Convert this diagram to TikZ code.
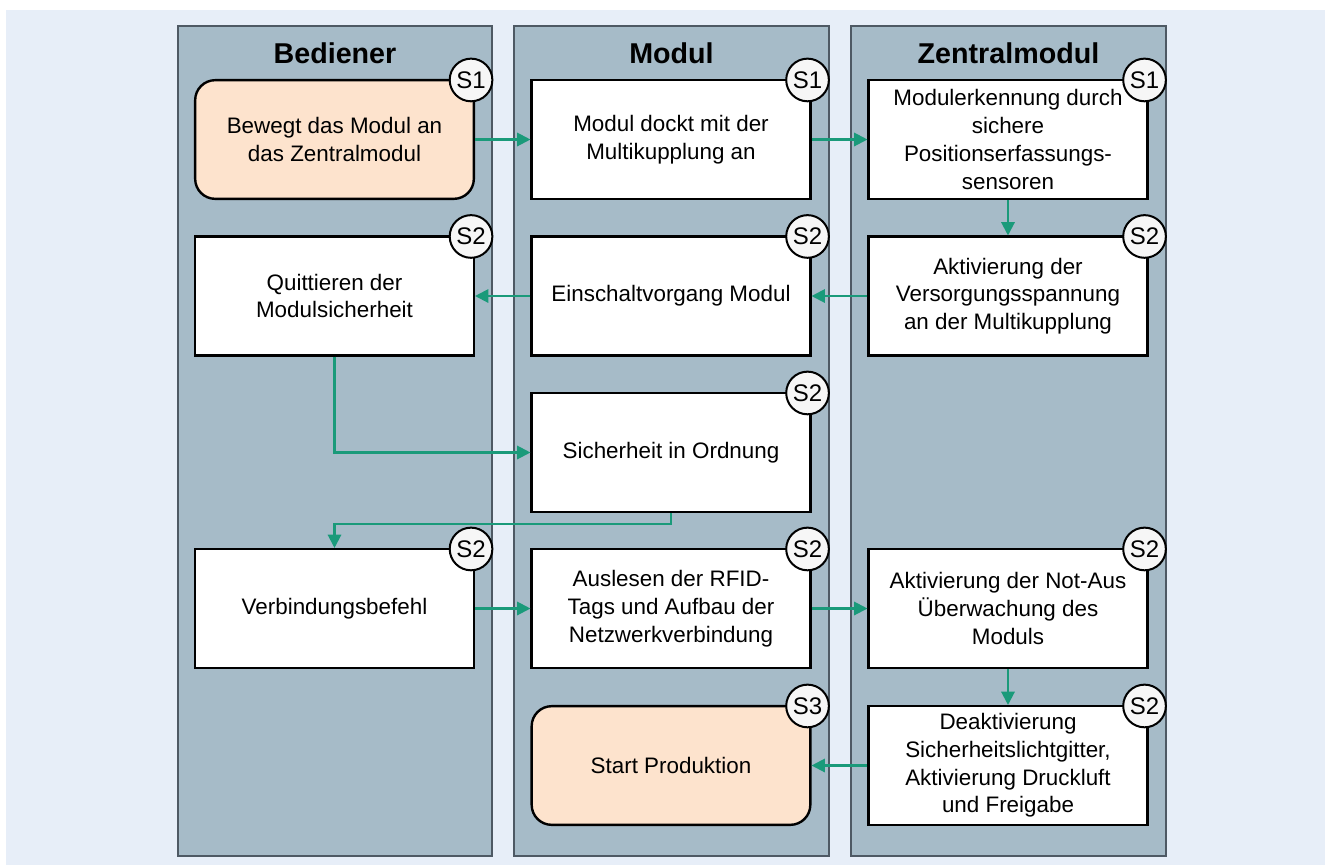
\documentclass[tikz,border=0pt]{standalone}
\usepackage{fontspec}
\setmainfont{Liberation Sans}
\usetikzlibrary{arrows.meta,calc}
\definecolor{bgblue}{HTML}{E7EEF8}
\definecolor{lanefill}{HTML}{A6BBC8}
\definecolor{laneline}{HTML}{4E5964}
\definecolor{peach}{HTML}{FDE3CD}
\definecolor{flow}{HTML}{1A9A7A}
\definecolor{badgefill}{HTML}{F6F6F6}
\tikzset{
  lane/.style={draw=laneline, fill=lanefill, line width=1.6pt, minimum width=236pt, minimum height=622pt, inner sep=0pt},
  lanetitle/.style={font=\fontsize{21.5}{25}\selectfont\bfseries, inner sep=0pt},
  stepbox/.style={draw=black, fill=white, line width=1.8pt, minimum width=209pt, minimum height=89pt, inner sep=2pt, align=center, font=\fontsize{16.8}{20.8}\selectfont},
  startbox/.style={stepbox, fill=peach, rounded corners=15pt},
  badge/.style={circle, draw=black, fill=badgefill, line width=1.5pt, minimum size=32pt, inner sep=0pt, font=\fontsize{18}{18}\selectfont},
  arr/.style={draw=flow, line width=1.6pt, -{Triangle[length=10pt,width=10pt]}}
}
\begin{document}
\begin{tikzpicture}[x=0.75pt, y=-0.75pt]
\useasboundingbox (0,0) rectangle (1325,865);
\fill[white] (0,0) rectangle (1325,865);
\fill[bgblue] (6,10) rectangle (1325,865);

% lanes
\node[lane] (laneA) at (335,441) {};
\node[lane] (laneB) at (671.5,441) {};
\node[lane] (laneC) at (1008.5,441) {};
\node[lanetitle] (tA) at (335,53) {Bediener};
\node[lanetitle] (tB) at (671.5,53) {Modul};
\node[lanetitle] (tC) at (1008.5,53) {Zentralmodul};

% boxes
\node[startbox] (a1) at (334.5,139.5) {Bewegt das Modul an\\das Zentralmodul};
\node[stepbox] (b1) at (671,139.5) {Modul dockt mit der\\Multikupplung an};
\node[stepbox] (c1) at (1008,139.5) {Modulerkennung durch\\sichere\\Positionserfassungs-\\sensoren};

\node[stepbox] (a2) at (334.5,296) {Quittieren der\\Modulsicherheit};
\node[stepbox] (b2) at (671,296) {Einschaltvorgang Modul};
\node[stepbox] (c2) at (1008,296) {Aktivierung der\\Versorgungsspannung\\an der Multikupplung};

\node[stepbox] (b3) at (671,452.5) {Sicherheit in Ordnung};

\node[stepbox] (a4) at (334.5,608.5) {Verbindungsbefehl};
\node[stepbox] (b4) at (671,608.5) {Auslesen der RFID-\\Tags und Aufbau der\\Netzwerkverbindung};
\node[stepbox] (c4) at (1008,608.5) {Aktivierung der Not-Aus\\Überwachung des\\Moduls};

\node[startbox] (b5) at (671,765.5) {Start Produktion};
\node[stepbox] (c5) at (1008,765.5) {Deaktivierung\\Sicherheitslichtgitter,\\Aktivierung Druckluft\\und Freigabe};

% badges
\node[badge] (ba1) at ($(a1.north east)+(-4,1)$) {S1};
\node[badge] (bb1) at ($(b1.north east)+(-4,1)$) {S1};
\node[badge] (bc1) at ($(c1.north east)+(-4,1)$) {S1};
\node[badge] (ba2) at ($(a2.north east)+(-4,1)$) {S2};
\node[badge] (bb2) at ($(b2.north east)+(-4,1)$) {S2};
\node[badge] (bc2) at ($(c2.north east)+(-4,1)$) {S2};
\node[badge] (bb3) at ($(b3.north east)+(-4,1)$) {S2};
\node[badge] (ba4) at ($(a4.north east)+(-4,1)$) {S2};
\node[badge] (bb4) at ($(b4.north east)+(-4,1)$) {S2};
\node[badge] (bc4) at ($(c4.north east)+(-4,1)$) {S2};
\node[badge] (bb5) at ($(b5.north east)+(-4,1)$) {S3};
\node[badge] (bc5) at ($(c5.north east)+(-4,1)$) {S2};

% connectors
\draw[arr] (a1.east) -- (b1.west);
\draw[arr] (b1.east) -- (c1.west);
\draw[arr] (c1.south) -- (c2.north);
\draw[arr] (c2.west) -- (b2.east);
\draw[arr] (b2.west) -- (a2.east);
\draw[arr] (a2.south) |- (b3.west);
\coordinate (k1) at ($(b3.south)+(0,11)$);
\draw[arr] (b3.south) -- (k1) -| (a4.north);
\draw[arr] (a4.east) -- (b4.west);
\draw[arr] (b4.east) -- (c4.west);
\draw[arr] (c4.south) -- (c5.north);
\draw[arr] (c5.west) -- (b5.east);
\end{tikzpicture}
\end{document}
